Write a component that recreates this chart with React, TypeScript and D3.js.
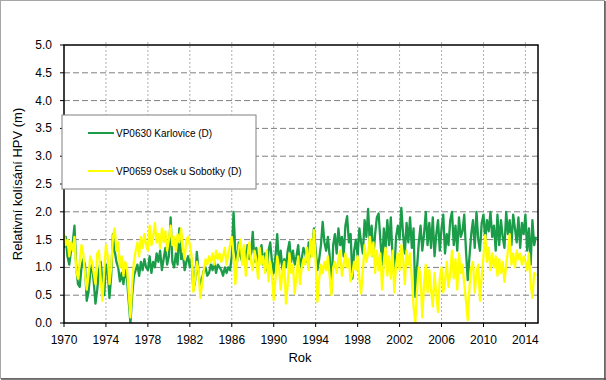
import React from "react";
import * as d3 from "d3";

// Relative groundwater level fluctuation, 6 readings per year, 1970.0 .. 2015.0
const startYear = 1970;
const stepsPerYear = 6;

const karlovice: number[] = [
  1.35, 1.55, 1.20, 1.05, 1.30, 1.45,
  1.75, 1.00, 0.70, 0.65, 1.00, 1.15,
  1.05, 0.40, 0.55, 0.90, 1.05, 0.75,
  0.35, 0.60, 0.95, 1.10, 0.75, 0.50,
  1.05, 0.95, 0.45, 0.85, 1.60, 1.30,
  1.10, 1.00, 0.75, 0.90, 0.70, 0.95,
  0.80, 0.40, 0.00, 0.50, 0.85, 0.95,
  1.05, 0.85, 1.10, 0.95, 1.15, 1.00,
  0.95, 1.20, 0.90, 1.10, 1.00, 1.25,
  1.10, 1.30, 0.95, 1.15, 1.35, 1.05,
  1.20, 1.90, 1.10, 1.00, 1.25, 1.05,
  1.70, 1.15, 1.25, 0.95, 1.10, 1.20,
  1.00, 1.15, 0.60, 0.75, 1.28, 0.90,
  0.65, 0.80, 0.95, 1.00, 0.85, 0.90,
  1.05, 0.95, 1.10, 0.90, 1.05, 1.00,
  0.95, 0.85, 1.00, 0.90, 1.00, 0.95,
  1.20, 2.00, 1.30, 1.10, 1.45, 1.20,
  1.10, 1.35, 1.00, 1.40, 1.15, 1.25,
  1.64, 1.10, 1.35, 1.00, 1.20, 1.40,
  1.05, 1.25, 0.95, 1.30, 1.45, 1.10,
  0.90, 1.20, 1.60, 1.05, 1.30, 0.95,
  1.15, 1.00, 1.30, 1.46, 1.10, 1.30,
  1.05, 1.20, 1.40, 1.00, 1.15, 1.35,
  1.25, 1.10, 1.45, 1.20, 1.35, 1.70,
  1.30, 0.95, 1.15, 1.40, 1.82, 1.45,
  1.30, 1.55, 1.20, 0.55, 1.40, 1.60,
  1.25, 1.70, 1.40, 1.55, 1.20, 1.75,
  1.92, 1.45, 1.60, 0.80, 1.30, 1.50,
  1.20, 1.70, 1.45, 1.25, 1.85, 1.55,
  2.05, 1.40, 1.75, 1.20, 1.60, 1.90,
  1.97, 1.50, 1.05, 1.70, 1.35, 1.85,
  1.40, 1.90, 1.15, 0.90, 1.55, 1.75,
  1.50, 2.07, 1.60, 1.25, 1.80, 1.45,
  1.90, 1.35, 1.70, 0.47, 1.00, 1.45,
  1.75, 1.30, 1.60, 2.00, 1.40, 1.80,
  1.35, 1.90, 1.20, 1.60, 1.85, 1.30,
  1.70, 1.95, 1.25, 1.60, 1.40, 1.85,
  2.00, 1.40, 1.75, 1.30, 1.90, 1.55,
  1.65, 1.95, 1.30, 0.77, 1.20, 1.60,
  1.85, 1.35, 2.00, 1.50, 1.30, 1.80,
  1.95, 1.50, 1.85, 1.65, 2.00, 1.55,
  1.75, 1.30, 1.95, 1.40, 1.85, 1.55,
  1.35, 2.00, 1.60, 1.85, 1.40, 1.95,
  1.70, 1.45, 1.90, 1.35, 1.80, 1.60,
  1.95, 1.30, 1.70, 1.05, 1.85, 1.40,
  1.55,
];

const osek: number[] = [
  1.60, 1.40, 1.50, 1.20, 1.45, 1.30,
  1.55, 0.95, 0.80, 1.10, 1.40, 1.25,
  0.90, 0.60, 0.85, 1.20, 1.10, 0.90,
  0.70, 1.25, 1.30, 0.80, 0.40, 0.95,
  1.40, 1.20, 0.70, 1.00, 1.55, 1.70,
  1.30, 1.45, 1.00, 1.20, 0.85, 1.10,
  1.00, 0.55, 0.10, 0.70, 1.10, 1.30,
  1.45, 1.20, 1.55, 1.35, 1.60, 1.40,
  1.30, 1.75, 1.40, 1.55, 1.80, 1.45,
  1.60, 1.35, 1.70, 1.45, 1.65, 1.30,
  1.50, 1.75, 1.40, 1.55, 1.30, 1.60,
  1.45, 1.70, 1.35, 1.15, 1.50, 1.55,
  1.40, 1.20, 0.56, 0.80, 1.10, 0.95,
  0.45, 0.70, 0.95, 1.15, 1.05, 1.20,
  1.10, 1.25, 1.05, 1.30, 1.15, 1.25,
  1.10, 1.20, 1.35, 1.05, 1.25, 1.40,
  1.55, 1.20, 0.70, 1.10, 1.35, 1.50,
  1.05, 1.40, 0.85, 1.20, 1.45, 1.10,
  0.95, 1.30, 1.15, 0.80, 1.35, 1.05,
  1.20, 0.90, 1.30, 0.75, 1.10, 0.85,
  0.41, 0.80, 1.20, 1.00, 0.60, 0.95,
  1.10, 0.35, 0.70, 1.25, 0.90, 1.05,
  0.53, 0.85, 1.20, 0.70, 1.00, 1.15,
  1.05, 1.35, 0.95, 1.50, 1.20, 1.67,
  1.10, 0.38, 0.80, 1.05, 0.90, 1.10,
  0.95, 1.20, 0.85, 0.50, 1.00, 1.10,
  0.90, 1.15, 1.30, 0.85, 1.05, 1.25,
  1.00, 1.15, 0.75, 0.90, 1.10, 0.95,
  1.20, 0.80, 0.53, 0.95, 1.40, 1.10,
  1.25, 1.55, 1.20, 1.45, 0.90, 1.30,
  0.95, 1.25, 0.60, 1.10, 1.35, 0.85,
  1.20, 0.80, 1.30, 0.55, 1.05, 1.25,
  0.95, 1.40, 1.15, 0.70, 1.30, 1.05,
  1.25, 0.80, 0.30, 0.00, 0.60, 1.00,
  0.85, 0.10, 0.70, 1.05, 0.55, 0.95,
  0.60, 0.30, 0.90, 0.50, 0.20, 0.80,
  1.00, 0.55, 0.75, 1.10, 0.65, 0.90,
  1.30, 0.80, 1.15, 0.60, 1.25, 0.90,
  1.05, 0.70, 0.40, 0.05, 0.65, 1.00,
  1.10, 0.55, 0.90, 1.05, 0.40, 0.85,
  1.20, 1.58, 1.10, 1.35, 0.95, 1.25,
  1.00, 1.20, 0.85, 1.15, 0.90, 1.10,
  0.74, 1.05, 1.30, 1.60, 1.05, 1.25,
  1.00, 1.30, 1.15, 1.25, 1.05, 1.20,
  1.10, 0.95, 1.25, 0.70, 0.45, 0.90,
  0.85,
];

const seriesNames = ["VP0630 Karlovice (D)", "VP0659 Osek u Sobotky (D)"];
const seriesColors = ["#1a9c48", "#ffff00"];
const xTicks = [1970, 1974, 1978, 1982, 1986, 1990, 1994, 1998, 2002, 2006, 2010, 2014];
const yTicks = [0, 0.5, 1, 1.5, 2, 2.5, 3, 3.5, 4, 4.5, 5];
const xTitle = "Rok";
const yTitle = "Relativní kolísání HPV (m)";

const W = 606;
const H = 380;
const L = 64, R = 538, T = 45, B = 323;
const FONT = "'Liberation Sans', Arial, sans-serif";

export default function App() {
  const x = d3.scaleLinear().domain([1970, 2015.2]).range([L, R]);
  const y = d3.scaleLinear().domain([0, 5]).range([B, T]);
  const line = d3
    .line<number>()
    .x((_, i) => x(startYear + i / stepsPerYear))
    .y((v) => y(v));
  const series = [karlovice, osek];

  return (
    <svg
      width={W}
      height={H}
      style={{ position: "absolute", left: 0, top: 0, background: "#fff" }}
      fontFamily={FONT}
    >
      <rect x={0.5} y={0.5} width={W - 2} height={H - 2} fill="#fff" stroke="#a6a6a6" />
      <line x1={1} y1={H - 1} x2={W} y2={H - 1} stroke="#555" strokeWidth={1.5} />
      <line x1={W - 1} y1={1} x2={W - 1} y2={H} stroke="#555" strokeWidth={1.5} />

      {/* gridlines */}
      {xTicks.slice(1).map((t) => (
        <line key={"gx" + t} x1={x(t)} x2={x(t)} y1={T - 3} y2={B} stroke="#b0b0b0" strokeWidth={1} strokeDasharray="2,2" />
      ))}
      {yTicks.slice(1, -1).map((t) => (
        <line key={"gy" + t} x1={L} x2={R} y1={y(t)} y2={y(t)} stroke="#808080" strokeWidth={1} strokeDasharray="6,3" />
      ))}

      {/* series */}
      <g clipPath="url(#plotclip)">
        {series.map((s, k) => (
          <path key={k} d={line(s) || ""} fill="none" stroke={seriesColors[k]} strokeWidth={2.3} strokeLinejoin="round" />
        ))}
      </g>
      <defs>
        <clipPath id="plotclip">
          <rect x={L} y={T} width={R - L} height={B - T} />
        </clipPath>
      </defs>

      {/* frame */}
      <rect x={L} y={T} width={R - L} height={B - T} fill="none" stroke="#000" strokeWidth={1.5} />

      {/* y axis */}
      {yTicks.map((t) => (
        <g key={"ty" + t}>
          <line x1={L - 4} x2={L} y1={y(t)} y2={y(t)} stroke="#000" />
          <text x={L - 12} y={y(t) + 4} textAnchor="end" fontSize={12} fill="#000">
            {t.toFixed(1)}
          </text>
        </g>
      ))}
      {/* x axis */}
      {xTicks.map((t) => (
        <g key={"tx" + t}>
          <line x1={x(t)} x2={x(t)} y1={B} y2={B + 4} stroke="#000" />
          <text x={x(t)} y={B + 21} textAnchor="middle" fontSize={12} fill="#000">
            {t}
          </text>
        </g>
      ))}
      <text x={300} y={362} textAnchor="middle" fontSize={13} fill="#000">
        {xTitle}
      </text>
      <text transform={`translate(22,${(T + B) / 2}) rotate(-90)`} textAnchor="middle" fontSize={13} fill="#000">
        {yTitle}
      </text>

      {/* legend */}
      <rect x={62} y={115} width={194} height={74} fill="#fff" stroke="#808080" />
      {seriesNames.map((n, k) => (
        <g key={n}>
          <line x1={88} x2={114} y1={133 + k * 38} y2={133 + k * 38} stroke={seriesColors[k]} strokeWidth={2} />
          <text x={116} y={137 + k * 38} fontSize={10} fill="#000">
            {n}
          </text>
        </g>
      ))}
    </svg>
  );
}
